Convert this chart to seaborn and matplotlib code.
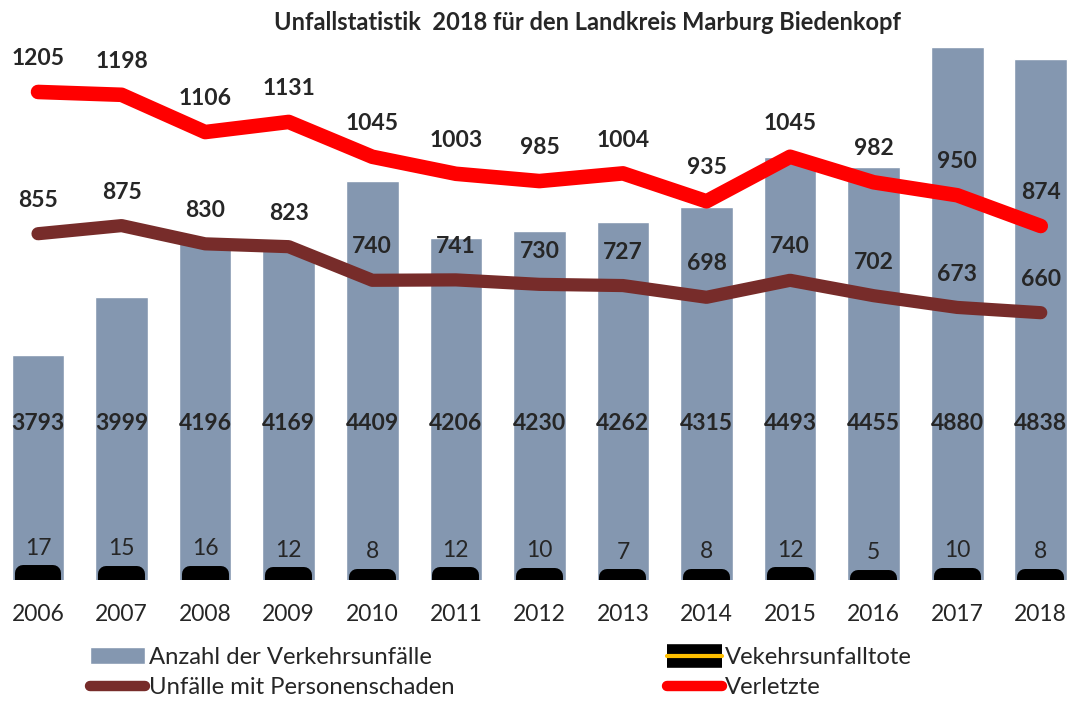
import matplotlib.pyplot as plt
from matplotlib.lines import Line2D
from matplotlib.patches import Patch
import pandas as pd
import seaborn as sns

jahre = ['2006', '2007', '2008', '2009', '2010', '2011', '2012',
         '2013', '2014', '2015', '2016', '2017', '2018']
unfaelle = [3793, 3999, 4196, 4169, 4409, 4206, 4230, 4262, 4315, 4493, 4455, 4880, 4838]
personenschaden = [855, 875, 830, 823, 740, 741, 730, 727, 698, 740, 702, 673, 660]
verletzte = [1205, 1198, 1106, 1131, 1045, 1003, 985, 1004, 935, 1045, 982, 950, 874]
tote = [17, 15, 16, 12, 8, 12, 10, 7, 8, 12, 5, 10, 8]

df = pd.DataFrame({'Jahr': jahre, 'Unfaelle': unfaelle, 'Personenschaden': personenschaden,
                   'Verletzte': verletzte, 'Tote': tote})
df['pos'] = range(len(df))

sns.set_theme(style='white')
plt.rcParams['font.family'] = ['Lato', 'DejaVu Sans']

c_bar = '#8497B0'
c_braun = '#772C2A'
c_rot = '#FF0000'

fig = plt.figure(figsize=(10.7, 7.02), dpi=100)
ax = fig.add_axes([0, 0.1738, 1, 0.8077])

sns.barplot(data=df, x='Jahr', y='Unfaelle', color=c_bar, saturation=1, width=0.63, ax=ax)
ax.set_ylim(3000, 5000)

ax2 = ax.twinx()
sns.barplot(data=df, x='Jahr', y='Tote', color='black', saturation=1, width=0.37,
            linewidth=11.5, edgecolor='black', ax=ax2)
for p in ax2.patches:
    p.set_joinstyle('round')
sns.lineplot(data=df, x='pos', y='Personenschaden', color=c_braun, lw=9.5,
             solid_capstyle='round', solid_joinstyle='round', ax=ax2)
sns.lineplot(data=df, x='pos', y='Verletzte', color=c_rot, lw=10.5,
             solid_capstyle='round', solid_joinstyle='round', ax=ax2)
ax2.set_ylim(0, 1400)
ax.set_xlim(-0.455, 12.35)

# Beschriftungen
for i, v in enumerate(unfaelle):
    ax.text(i, 0.276, str(v), transform=ax.get_xaxis_transform(), ha='center', va='center',
            fontsize=16.5, fontweight='bold')
for i, v in enumerate(verletzte):
    ax2.annotate(str(v), (i, v), xytext=(0, 24), textcoords='offset points',
                 ha='center', va='center', fontsize=16.5, fontweight='bold')
for i, v in enumerate(personenschaden):
    ax2.annotate(str(v), (i, v), xytext=(0, 24), textcoords='offset points',
                 ha='center', va='center', fontsize=16.5, fontweight='bold')
for i, v in enumerate(tote):
    ax2.annotate(str(v), (i, v), xytext=(0, 18), textcoords='offset points',
                 ha='center', va='center', fontsize=16.5)

ax.set_xticks(range(len(jahre)))
ax.set_xticklabels(jahre)
ax.tick_params(axis='x', length=0, pad=17, labelsize=16.5)
ax.set_yticks([])
ax2.set_yticks([])
for a in (ax, ax2):
    a.set_xlabel('')
    a.set_ylabel('')
    for s in a.spines.values():
        s.set_visible(False)

fig.text(587 / 1070, 1 - 22 / 702, 'Unfallstatistik  2018 für den Landkreis Marburg Biedenkopf',
         ha='center', va='center', fontsize=17, fontweight='bold')

handles = [Patch(facecolor=c_bar),
           Line2D([], [], color=c_braun, lw=7.5, solid_capstyle='round'),
           (Line2D([], [], color='black', lw=17, solid_capstyle='butt'),
            Line2D([], [], color='#FFC000', lw=3)),
           Line2D([], [], color=c_rot, lw=7.5, solid_capstyle='round')]
labels = ['Anzahl der Verkehrsunfälle', 'Unfälle mit Personenschaden',
          'Vekehrsunfalltote', 'Verletzte']
fig.legend(handles, labels, ncol=2, loc='upper left', bbox_to_anchor=(90 / 1070, 1 - 647 / 702),
           frameon=False, fontsize=17.2, handlelength=2.3, handletextpad=0.15,
           columnspacing=8.9, labelspacing=0.38, borderaxespad=0, borderpad=0)

plt.savefig('out.png', dpi=100)
